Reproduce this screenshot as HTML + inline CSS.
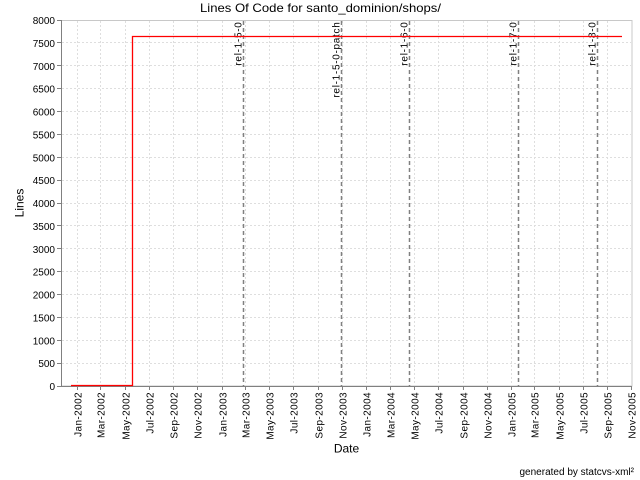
<!DOCTYPE html>
<html><head><meta charset="utf-8"><style>
html,body{margin:0;padding:0;background:#fff;}
svg{display:block;font-family:"Liberation Sans","DejaVu Sans",sans-serif;}
</style></head><body>
<svg width="640" height="480" viewBox="0 0 640 480" xmlns="http://www.w3.org/2000/svg">
<rect width="640" height="480" fill="#fff"/>
<text x="320.5" y="12" font-size="12" text-anchor="middle" fill="#000" textLength="241" lengthAdjust="spacingAndGlyphs">Lines Of Code for santo_dominion/shops/</text>
<!-- plot area -->
<rect x="61.5" y="20.5" width="570.5" height="365.5" fill="#fff" stroke="#c8c8c8" stroke-width="1"/>
<g stroke="#dedede" stroke-width="1" stroke-dasharray="2,2" fill="none" shape-rendering="crispEdges">
<path d="M62 363.5H631M62 340.5H631M62 317.5H631M62 294.5H631M62 271.5H631M62 248.5H631M62 225.5H631M62 203.5H631M62 180.5H631M62 157.5H631M62 134.5H631M62 111.5H631M62 88.5H631M62 65.5H631M62 42.5H631"/>
<path d="M77.5 21V385M100.5 21V385M125.5 21V385M149.5 21V385M173.5 21V385M197.5 21V385M222.5 21V385M245.5 21V385M269.5 21V385M293.5 21V385M318.5 21V385M342.5 21V385M366.5 21V385M390.5 21V385M414.5 21V385M438.5 21V385M463.5 21V385M487.5 21V385M511.5 21V385M534.5 21V385M559.5 21V385M583.5 21V385M607.5 21V385"/>
</g>
<!-- axes -->
<g stroke="#808080" stroke-width="1" fill="none" shape-rendering="crispEdges">
<path d="M61.5 20V386.5H632"/>
<path d="M57 20.5H61M57 42.5H61M57 65.5H61M57 88.5H61M57 111.5H61M57 134.5H61M57 157.5H61M57 180.5H61M57 203.5H61M57 225.5H61M57 248.5H61M57 271.5H61M57 294.5H61M57 317.5H61M57 340.5H61M57 363.5H61M57 386.5H61"/>
<path d="M77.5 387V390M100.5 387V390M125.5 387V390M149.5 387V390M173.5 387V390M197.5 387V390M222.5 387V390M245.5 387V390M269.5 387V390M293.5 387V390M318.5 387V390M342.5 387V390M366.5 387V390M390.5 387V390M414.5 387V390M438.5 387V390M463.5 387V390M487.5 387V390M511.5 387V390M534.5 387V390M559.5 387V390M583.5 387V390M607.5 387V390M631.5 387V390"/>
</g>
<!-- y labels -->
<g font-size="10" text-anchor="end" fill="#000">
<text x="55" y="24.2">8000</text>
<text x="55" y="47">7500</text>
<text x="55" y="69.8">7000</text>
<text x="55" y="92.7">6500</text>
<text x="55" y="115.5">6000</text>
<text x="55" y="138.4">5500</text>
<text x="55" y="161.3">5000</text>
<text x="55" y="184.1">4500</text>
<text x="55" y="207">4000</text>
<text x="55" y="229.9">3500</text>
<text x="55" y="252.8">3000</text>
<text x="55" y="275.6">2500</text>
<text x="55" y="298.5">2000</text>
<text x="55" y="321.4">1500</text>
<text x="55" y="344.3">1000</text>
<text x="55" y="367.1">500</text>
<text x="55" y="390">0</text>
</g>
<!-- x labels -->
<g font-size="10" text-anchor="end" fill="#000" letter-spacing="0.4">
<text transform="translate(81.5,392) rotate(-90)">Jan-2002</text>
<text transform="translate(104.5,392) rotate(-90)">Mar-2002</text>
<text transform="translate(129.5,392) rotate(-90)">May-2002</text>
<text transform="translate(153.5,392) rotate(-90)">Jul-2002</text>
<text transform="translate(177.5,392) rotate(-90)">Sep-2002</text>
<text transform="translate(201.5,392) rotate(-90)">Nov-2002</text>
<text transform="translate(226.5,392) rotate(-90)">Jan-2003</text>
<text transform="translate(249.5,392) rotate(-90)">Mar-2003</text>
<text transform="translate(273.5,392) rotate(-90)">May-2003</text>
<text transform="translate(297.5,392) rotate(-90)">Jul-2003</text>
<text transform="translate(322.5,392) rotate(-90)">Sep-2003</text>
<text transform="translate(346.5,392) rotate(-90)">Nov-2003</text>
<text transform="translate(370.5,392) rotate(-90)">Jan-2004</text>
<text transform="translate(394.5,392) rotate(-90)">Mar-2004</text>
<text transform="translate(418.5,392) rotate(-90)">May-2004</text>
<text transform="translate(442.5,392) rotate(-90)">Jul-2004</text>
<text transform="translate(467.5,392) rotate(-90)">Sep-2004</text>
<text transform="translate(491.5,392) rotate(-90)">Nov-2004</text>
<text transform="translate(515.5,392) rotate(-90)">Jan-2005</text>
<text transform="translate(538.5,392) rotate(-90)">Mar-2005</text>
<text transform="translate(563.5,392) rotate(-90)">May-2005</text>
<text transform="translate(587.5,392) rotate(-90)">Jul-2005</text>
<text transform="translate(611.5,392) rotate(-90)">Sep-2005</text>
<text transform="translate(635.5,392) rotate(-90)">Nov-2005</text>
</g>
<!-- release markers -->
<g stroke="#808080" stroke-width="1.5" stroke-dasharray="4,3" fill="none">
<path d="M243.5 21V386M341.5 21V386M409.5 21V386M518.5 21V386M597.5 21V386"/>
</g>
<g font-size="10" text-anchor="end" fill="#000" letter-spacing="0.7">
<text transform="translate(241.5,21.5) rotate(-90)">rel-1-5-0</text>
<text transform="translate(339.5,21.5) rotate(-90)">rel-1-5-0-patch</text>
<text transform="translate(407.5,21.5) rotate(-90)">rel-1-6-0</text>
<text transform="translate(516.5,21.5) rotate(-90)">rel-1-7-0</text>
<text transform="translate(595.5,21.5) rotate(-90)">rel-1-8-0</text>
</g>
<!-- series -->
<path d="M71 385.5H132.5V36.5H622" fill="none" stroke="#ff0000" stroke-width="1.3"/>
<!-- axis titles -->
<text transform="translate(23.5,203) rotate(-90)" font-size="12" text-anchor="middle" fill="#000">Lines</text>
<text x="346.5" y="452.5" font-size="12" text-anchor="middle" fill="#000">Date</text>
<text x="634" y="475" font-size="10" text-anchor="end" fill="#000">generated by statcvs-xml²</text>
</svg>
</body></html>
